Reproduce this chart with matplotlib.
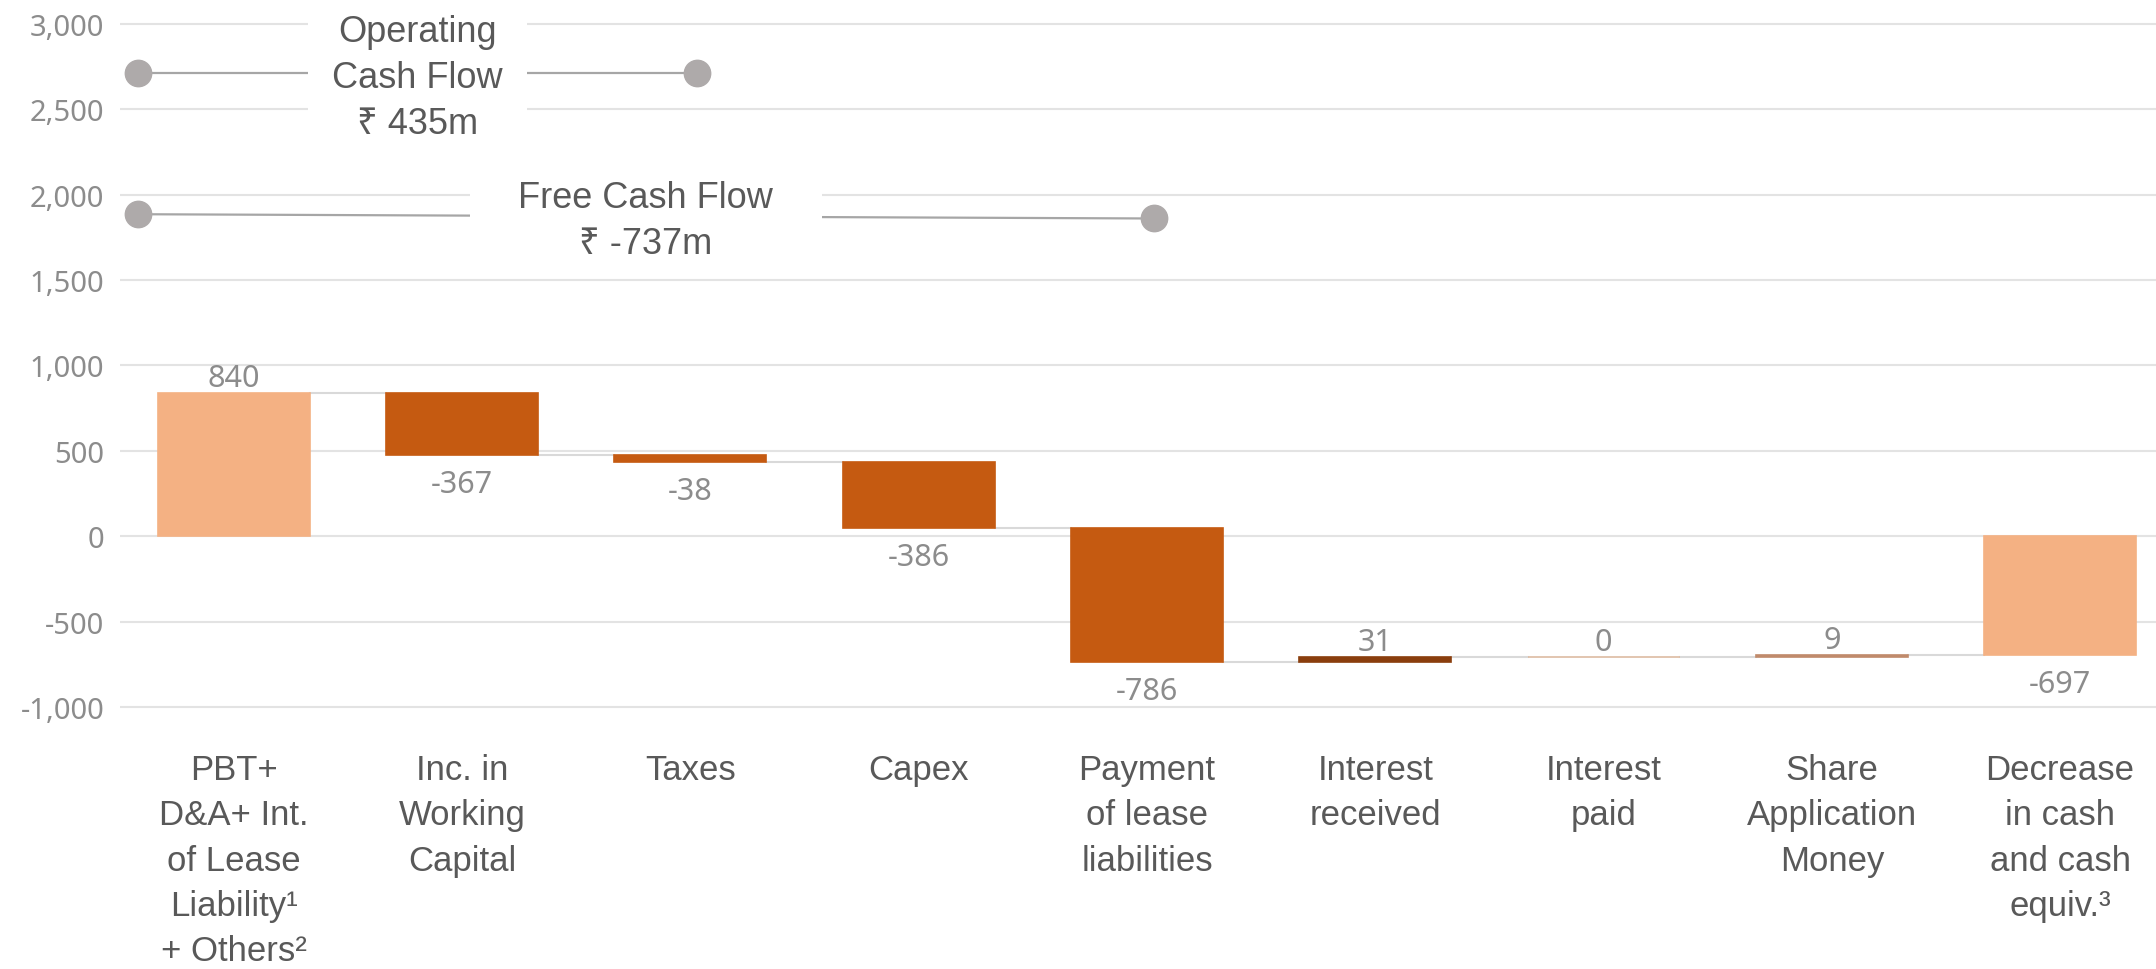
import matplotlib
matplotlib.use("Agg")
import matplotlib.pyplot as plt
from matplotlib.patches import Rectangle
import numpy as np

# --- data ---
categories = [
    "PBT+\nD&A+ Int.\nof Lease\nLiability¹\n+ Others²",
    "Inc. in\nWorking\nCapital",
    "Taxes",
    "Capex",
    "Payment\nof lease\nliabilities",
    "Interest\nreceived",
    "Interest\npaid",
    "Share\nApplication\nMoney",
    "Decrease\nin cash\nand cash\nequiv.³",
]
changes = [840, -367, -38, -386, -786, 31, 0, 9]
closing = -697
bar_colors = ["#F4B183", "#C55A11", "#C55A11", "#C55A11", "#C55A11",
              "#8A3E0D", "#DDBBA2", "#C08A6B", "#F4B183"]
y_ticks = [-1000, -500, 0, 500, 1000, 1500, 2000, 2500, 3000]

# brackets: (title, last bar index, y at left end, y at right end)
ocf_title, ocf_end, ocf_levels = "Operating\nCash Flow", 2, (2710, 2710)
fcf_title, fcf_end, fcf_levels = "Free Cash Flow", 4, (1885, 1860)

# --- waterfall geometry ---
ends = np.cumsum(changes)
starts = np.concatenate([[0], ends[:-1]])
bottoms = list(starts) + [0]
heights = list(ends - starts) + [closing]
values = list(changes) + [closing]
x = np.arange(len(categories))
bar_w = 0.666

label_font = ["Liberation Sans", "Noto Sans", "DejaVu Sans"]
num_font = ["Noto Sans", "DejaVu Sans"]
dark = "#595959"
grey = "#8C8C8C"

fig = plt.figure(figsize=(21.56, 9.7), dpi=100)
ax = fig.add_axes([0.0555, 0.25247, 0.9445, 0.74666])
ax.set_xlim(-0.5, 8.42)
ax.set_ylim(-1100, 3140)

for y in y_ticks:
    ax.axhline(y, color="#E3E3E3", lw=1.5, zorder=0)

ax.bar(x, heights, bottom=bottoms, width=bar_w, color=bar_colors,
       edgecolor=bar_colors, linewidth=1.2, zorder=3)

# connectors between consecutive bars
for i in range(len(x) - 1):
    lvl = ends[i] if i < len(ends) else closing
    ax.plot([x[i] + bar_w / 2, x[i + 1] - bar_w / 2], [lvl, lvl],
            color="#D9D9D9", lw=1.5, zorder=2)

# value labels
for i, v in enumerate(values):
    top = bottoms[i] + max(heights[i], 0)
    low = bottoms[i] + min(heights[i], 0)
    if v >= 0:
        ax.annotate(f"{v:,}", (x[i], top), xytext=(0, 5), textcoords="offset points",
                    ha="center", va="baseline", fontsize=22, color=grey, family=num_font)
    else:
        ax.annotate(f"{v:,}", (x[i], low), xytext=(0, -26.5), textcoords="offset points",
                    ha="center", va="baseline", fontsize=22, color=grey, family=num_font)

# cash flow brackets
left_x = -0.42
def bracket(title, end_idx, levels, half_w, box_y):
    total = int(ends[end_idx])
    xr = x[end_idx] + 0.03
    ax.plot([left_x, xr], levels, color="#A6A6A6", lw=1.6, zorder=4,
            solid_capstyle="butt")
    ax.plot([left_x, xr], levels, ls="none", marker="o", ms=19,
            color="#AEAAAA", zorder=5, clip_on=False)
    cx = (left_x + xr) / 2
    ax.add_patch(Rectangle((cx - half_w, box_y[0]), 2 * half_w, box_y[1] - box_y[0],
                           facecolor="white", edgecolor="none", zorder=6, clip_on=False))
    ax.annotate(f"{title}\n₹ {total}m", (cx, np.mean(levels)), xytext=(0, -3),
                textcoords="offset points", ha="center", va="center",
                fontsize=26, color=dark, family=label_font, linespacing=1.42,
                zorder=7, annotation_clip=False)

bracket(ocf_title, ocf_end, ocf_levels, 0.48, (2330, 3080))
bracket(fcf_title, fcf_end, fcf_levels, 0.77, (1620, 2120))

ax.set_yticks(y_ticks)
ax.set_yticklabels([f"{t:,}" for t in y_ticks], fontsize=21, color=grey, family=num_font)
ax.set_xticks(x)
ax.set_xticklabels(categories, fontsize=25, color=dark, family=label_font, linespacing=1.47)
ax.tick_params(axis="both", length=0)
ax.tick_params(axis="y", pad=11)
ax.tick_params(axis="x", pad=21)
for s in ax.spines.values():
    s.set_visible(False)

fig.savefig("out.png", dpi=100, facecolor="white")
